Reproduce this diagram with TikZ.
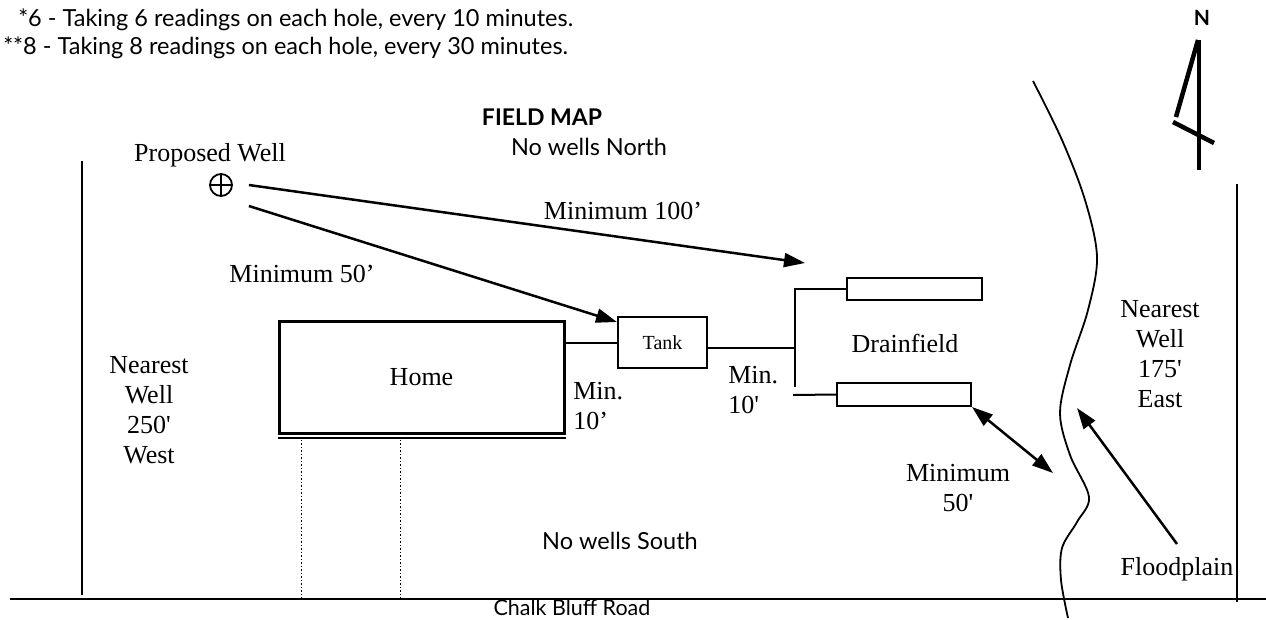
\documentclass[tikz,border=0pt]{standalone}
\usepackage{fontspec}
\setmainfont{Liberation Serif}
\newfontfamily\notefont{Lato}
\usetikzlibrary{arrows.meta}

\begin{document}
\begin{tikzpicture}[x=1pt,y=-1pt,->,>={Triangle[length=21pt,width=14pt]},
	line width=2.5pt]
	\tikzstyle{every node}=[font=\fontsize{26}{30}\selectfont,inner sep=0pt]
	\tikzstyle{note}=[font=\notefont\fontsize{23.5}{28}\selectfont]
	\tikzstyle{box}=[draw,line width=2pt]
	\tikzstyle{edge}=[-,line width=2pt]
	\useasboundingbox (0,0) rectangle (1266,619);

	% notes and title
	\node[note,anchor=west] (n6) at (17,20) {*6 - Taking 6 readings on each hole, every 10 minutes.};
	\node[note,anchor=west] (n8) at (2,48) {**8 - Taking 8 readings on each hole, every 30 minutes.};
	\node[note,font=\notefont\bfseries\fontsize{23}{28}\selectfont] (title) at (542,117) {FIELD MAP};
	\node[note] (north) at (589,147) {No wells North};
	\node[note] (south) at (620,541) {No wells South};
	\node[note,anchor=base,font=\notefont\fontsize{21.5}{24}\selectfont] (road) at (572,615.5) {Chalk Bluff Road};
	\node[note,font=\notefont\bfseries\fontsize{21}{24}\selectfont] (N) at (1202,18) {N};

	% property lines
	\coordinate (roadW) at (10,599);
	\coordinate (roadE) at (1266,599);
	\draw[edge] (roadW) -- (roadE);
	\draw[edge] (82,161) -- (82,595);
	\draw[edge] (1237,184) -- (1237,602);

	% compass
	\draw[-,line width=4.5pt] (1199,40) -- (1199,170);
	\draw[-,line width=4.5pt] (1198,40) -- (1176,117);
	\draw[-,line width=4.5pt] (1173,122) -- (1214,143);

	% well
	\node (pwlabel) at (210,155) {Proposed Well};
	\node[circle,draw,line width=1.8pt,minimum size=22pt] (well) at (221,185) {};
	\draw[-,line width=1.8pt] (well.north) -- (well.south);
	\draw[-,line width=1.8pt] (well.west) -- (well.east);

	% house and septic
	\node[box,line width=3pt,minimum width=285pt,minimum height=112pt] (home) at (421.5,377) {Home};
	\draw[-,line width=2pt] ([yshift=-3.5pt]home.south west) -- ([yshift=-3.5pt]home.south east);
	\draw[-,dotted,line width=1.5pt] ([xshift=24pt,yshift=-5pt]home.south west) -- ([xshift=24pt]home.south west |- roadW);
	\draw[-,dotted,line width=1.5pt] ([xshift=123pt,yshift=-5pt]home.south west) -- ([xshift=123pt]home.south west |- roadW);
	\node[box,minimum width=89pt,minimum height=51pt,font=\fontsize{20}{24}\selectfont] (tank) at (662.5,342.5) {Tank};
	\node[box,minimum width=135pt,minimum height=22pt] (drainA) at (914.5,289) {};
	\node[box,minimum width=134pt,minimum height=23pt] (drainB) at (904,394.5) {};
	\node (drainfield) at (905,343) {Drainfield};
	\coordinate (mtop) at (795,289);
	\coordinate (mbot) at (795,387);
	\coordinate (bstub) at (793,395);
	\draw[edge] (tank.west) -- (tank.west -| home.east);
	\draw[edge] ([yshift=-5.5pt]tank.east) -- ([yshift=-5.5pt]tank.east -| mtop);
	\draw[edge] (mbot) -- (mtop) -- (drainA.west);
	\draw[edge] (bstub) -- (drainB.west);

	% river
	\draw[-,line width=1.8pt] plot[smooth,tension=0.55] coordinates {(1033,81) (1062,140) (1085,200) (1097,257) (1088,310) (1070,365) (1060,413) (1070,455) (1089,497) (1077,522) (1062,548) (1061,580) (1068,618)};

	% distances
	\coordinate (tip100) at (805,263);
	\coordinate (tip50) at (1053,473);
	\coordinate (tipflood) at (1077,408);
	\draw ([xshift=16pt]well.east) -- (tip100);
	\draw ([shift={(16pt,-21pt)}]well.east) -- ([yshift=-6pt]tank.north west);
	\draw[<->] (drainB.south east) -- (tip50);
	\node (m100) at (623,211) {Minimum 100’};
	\node (m50) at (302,274) {Minimum 50’};
	\node[align=left,anchor=west] (min1) at (572,406) {Min.\\10’};
	\node[align=left,anchor=west] (min2) at (727,390) {Min.\\10\textquotesingle};
	\node[align=center] (m50b) at (958,488) {Minimum\\50\textquotesingle};

	% neighbours
	\node[align=center] (westwell) at (149,410) {Nearest\\Well\\250\textquotesingle\\West};
	\node[align=center] (eastwell) at (1160,354) {Nearest\\Well\\175\textquotesingle\\East};
	\node (flood) at (1177,569) {Floodplain};
	\draw ([yshift=12pt]flood.north) -- (tipflood);
\end{tikzpicture}
\end{document}
